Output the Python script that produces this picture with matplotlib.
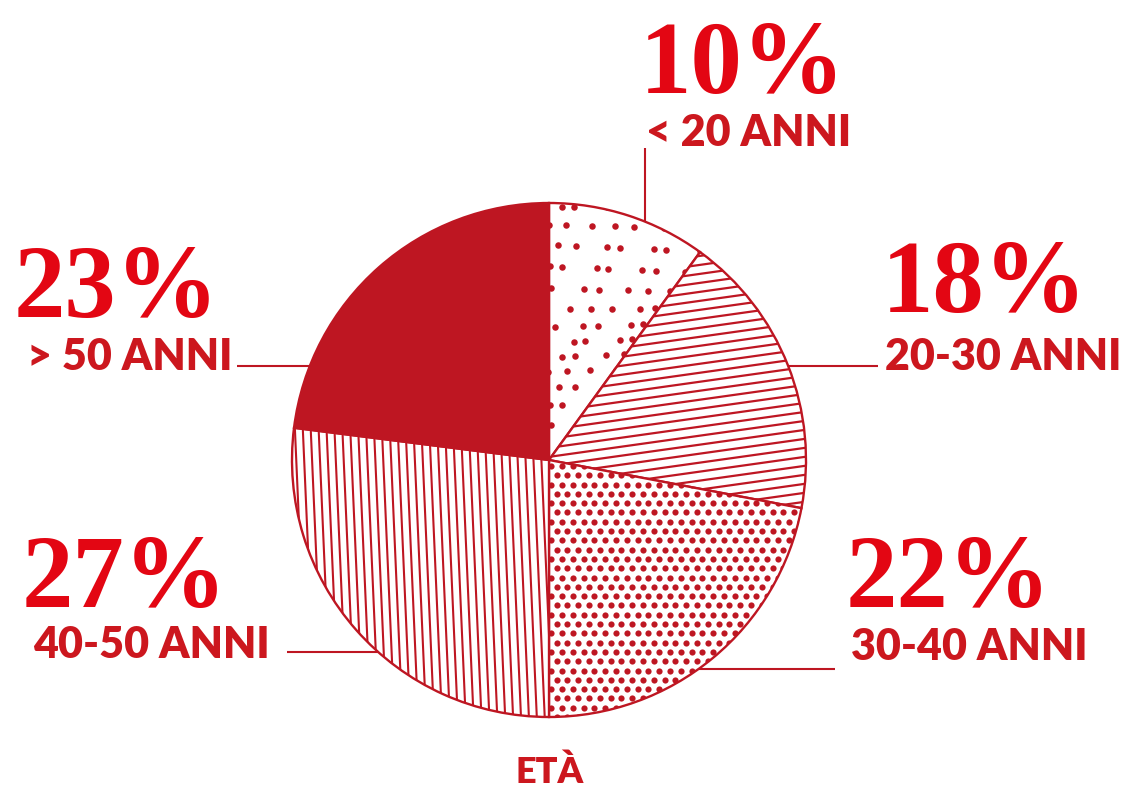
import numpy as np
import matplotlib
matplotlib.use('Agg')
import matplotlib.pyplot as plt
from matplotlib.collections import LineCollection

# ---- data ----
categories = ['< 20 ANNI', '20-30 ANNI', '30-40 ANNI', '40-50 ANNI', '> 50 ANNI']
values = [10, 18, 22, 27, 23]
pct_labels = ['10%', '18%', '22%', '27%', '23%']
title = 'ETÀ'

# ---- style ----
PIE = '#BE1622'
NUM = '#E30613'
LAB = '#CC171E'
W, H = 1132, 791
PT = 72 / 100.0  # px -> pt

fig = plt.figure(figsize=(W / 100, H / 100), dpi=100)
ax = fig.add_axes([0, 0, 1, 1])

cx, cy, R = 549, H - 460, 257
wedges, _ = ax.pie(values, startangle=90, counterclock=False, center=(cx, cy),
                   radius=R, colors=['white'] * 4 + [PIE],
                   wedgeprops=dict(edgecolor=PIE, linewidth=1.7))
ax.set_xlim(0, W)
ax.set_ylim(0, H)
ax.set_aspect('auto')
ax.axis('off')


def line_hatch(wedge, angle_deg, spacing, lw):
    t = np.deg2rad(angle_deg)
    d = np.array([np.cos(t), np.sin(t)])
    n = np.array([-np.sin(t), np.cos(t)])
    offs = np.arange(-1.2 * R, 1.2 * R, spacing)
    L = 1.3 * R
    segs = [[(cx + o * n[0] - L * d[0], cy + o * n[1] - L * d[1]),
             (cx + o * n[0] + L * d[0], cy + o * n[1] + L * d[1])] for o in offs]
    lc = LineCollection(segs, colors=PIE, linewidths=lw, zorder=3)
    ax.add_collection(lc)
    lc.set_clip_path(wedge)


def dot_hatch(wedge, a, row, diam_px, jitter=0.0):
    xs_all, ys_all = [], []
    ys = np.arange(cy - R - row, cy + R + row, row)
    for i, y in enumerate(ys):
        xs = np.arange(cx - R - a, cx + R + a, a) + (a / 2 if i % 2 else 0)
        for x in xs:
            jx = jitter * np.sin(12.9898 * x + 78.233 * y)
            jy = jitter * np.sin(39.346 * x + 11.135 * y)
            xs_all.append(x + jx)
            ys_all.append(y + jy)
    sc = ax.scatter(xs_all, ys_all, s=(diam_px * PT) ** 2, color=PIE,
                    linewidths=0, zorder=3)
    sc.set_clip_path(wedge)


dot_hatch(wedges[0], 23, 18, 6.5, jitter=6)
line_hatch(wedges[1], 8, 8.9, 1.6)
dot_hatch(wedges[2], 10.8, 9.3, 6.2)
line_hatch(wedges[3], 92.5, 7.9, 1.5)


def edge_x(y_img, side):
    dy = (H - y_img) - cy
    return cx + side * np.sqrt(R ** 2 - dy ** 2)


def edge_y(x):
    return cy + np.sqrt(R ** 2 - (x - cx) ** 2)


lk = dict(color=PIE, lw=1.5, solid_capstyle='butt', zorder=4)
# leader lines
ax.plot([645, 645], [H - 148, edge_y(645)], **lk)
ax.plot([edge_x(366, 1), 878], [H - 366, H - 366], **lk)
ax.plot([edge_x(669, 1), 835], [H - 669, H - 669], **lk)
ax.plot([287, edge_x(652, -1)], [H - 652, H - 652], **lk)
ax.plot([237, edge_x(366, -1)], [H - 366, H - 366], **lk)

num_font = dict(family=['Liberation Serif', 'DejaVu Serif'], fontweight='bold',
                fontsize=74, color=NUM, va='baseline')
lab_font = dict(family=['Lato', 'DejaVu Sans'], fontweight='heavy',
                fontsize=31, color=LAB, va='baseline')

# (x, baseline, ha) for percentage and category labels
pct_pos = [(640, 93, 'left'), (882, 312, 'left'), (846, 607, 'left'),
           (22, 607, 'left'), (14, 317, 'left')]
lab_pos = [(646, 146, 'left'), (885, 370, 'left'), (851, 660, 'left'),
           (270, 658, 'right'), (232, 370, 'right')]

for txt, (x, y, ha) in zip(pct_labels, pct_pos):
    ax.text(x, H - y, txt, ha=ha, **num_font)
for txt, (x, y, ha) in zip(categories, lab_pos):
    ax.text(x, H - y, txt, ha=ha, **lab_font)

ax.text(550, H - 783, title, ha='center', va='baseline',
        family=['Lato', 'DejaVu Sans'], fontweight='heavy', fontsize=26,
        color=LAB)

fig.savefig('out.png', dpi=100)
